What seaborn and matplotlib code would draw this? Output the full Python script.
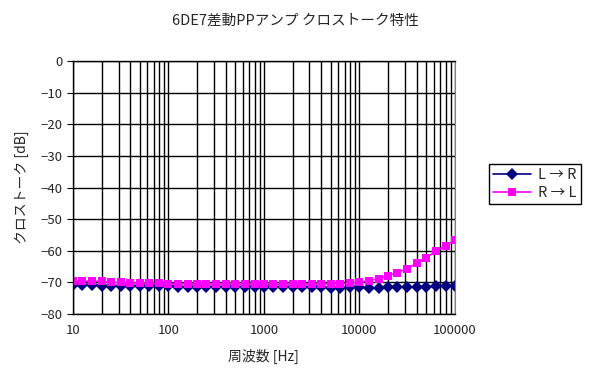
import matplotlib
matplotlib.use('Agg')
import matplotlib.pyplot as plt
import matplotlib.ticker as mticker
import seaborn as sns
import pandas as pd

# 周波数 (1/3 oct) [Hz]
freq = [10, 12.5, 16, 20, 25, 31.5, 40, 50, 63, 80,
        100, 125, 160, 200, 250, 315, 400, 500, 630, 800,
        1000, 1250, 1600, 2000, 2500, 3150, 4000, 5000, 6300, 8000,
        10000, 12500, 16000, 20000, 25000, 31500, 40000, 50000, 63000, 80000,
        100000]

# L -> R crosstalk [dB]
l_to_r = [-70.8, -70.9, -70.9, -71.0, -71.1, -71.1, -71.2, -71.2, -71.3, -71.2,
          -71.3, -71.4, -71.4, -71.5, -71.5, -71.5, -71.5, -71.5, -71.5, -71.5,
          -71.5, -71.5, -71.5, -71.5, -71.6, -71.6, -71.6, -71.8, -71.8, -71.6,
          -71.5, -71.8, -71.7, -71.6, -71.5, -71.5, -71.4, -71.4, -71.3, -71.2,
          -71.0]

# R -> L crosstalk [dB]
r_to_l = [-69.6, -69.6, -69.6, -69.7, -70.0, -70.0, -70.2, -70.2, -70.3, -70.3,
          -70.5, -70.5, -70.5, -70.6, -70.6, -70.6, -70.6, -70.6, -70.6, -70.6,
          -70.6, -70.6, -70.6, -70.6, -70.6, -70.5, -70.5, -70.4, -70.4, -70.3,
          -69.9, -69.5, -68.8, -67.9, -66.9, -65.7, -63.9, -62.2, -60.2, -58.4,
          -56.5]

series_names = ['L \u2192 R', 'R \u2192 L']

df = pd.concat([
    pd.DataFrame({'freq': freq, 'dB': l_to_r, 'ch': series_names[0]}),
    pd.DataFrame({'freq': freq, 'dB': r_to_l, 'ch': series_names[1]}),
])

sns.set_style('white')
plt.rcParams['font.family'] = ['Noto Sans CJK JP', 'DejaVu Sans']

fig = plt.figure(figsize=(5.9, 3.79), dpi=100)
ax = fig.add_axes([0.1237, 0.1715, 0.771 - 0.1237, 0.839 - 0.1715])

sns.lineplot(data=df, x='freq', y='dB', hue='ch', style='ch',
             palette={series_names[0]: '#000080', series_names[1]: '#FF00FF'},
             markers={series_names[0]: 'D', series_names[1]: 's'},
             dashes=False, markersize=6, markeredgewidth=0, linewidth=1.2,
             ax=ax, legend=True)

ax.set_xscale('log')
ax.set_xlim(10, 100000)
ax.set_ylim(-80, 0)
ax.set_yticks(range(-80, 1, 10))
ax.xaxis.set_major_formatter(mticker.FuncFormatter(lambda v, p: f'{int(round(v))}'))
ax.xaxis.set_minor_formatter(mticker.NullFormatter())

ax.grid(True, which='major', axis='both', color='black', linewidth=1)
ax.grid(True, which='minor', axis='x', color='black', linewidth=1)
ax.set_axisbelow(True)

for s in ['left', 'bottom', 'top']:
    ax.spines[s].set_color('black')
    ax.spines[s].set_linewidth(1)
ax.spines['right'].set_color('#808080')

ax.tick_params(axis='both', which='major', labelsize=9.5, length=4, color='black',
               direction='out', left=True, bottom=False)
ax.tick_params(axis='x', which='minor', bottom=False)

ax.set_xlabel('周波数 [Hz]', fontsize=10, labelpad=8)
ax.set_ylabel('クロストーク [dB]', fontsize=10, labelpad=8)
fig.text(0.5, 0.945, '6DE7差動PPアンプ クロストーク特性', ha='center', va='center', fontsize=10.5)

handles, labels = ax.get_legend_handles_labels()
ax.legend(handles, labels, loc='upper left', bbox_to_anchor=(0.828, 0.568),
          bbox_transform=fig.transFigure, fancybox=False, edgecolor='black',
          framealpha=1, fontsize=10.5, handlelength=2.6, handletextpad=0.5,
          borderpad=0.3, labelspacing=0.25, borderaxespad=0)

fig.savefig('out.png', dpi=100)
